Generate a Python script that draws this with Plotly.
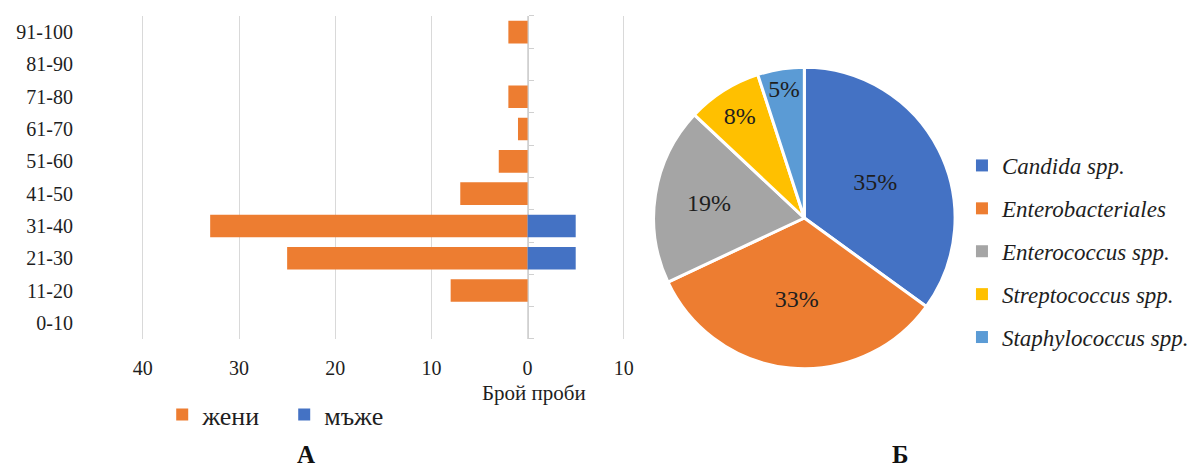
import plotly.graph_objects as go

age_groups = ["0-10", "11-20", "21-30", "31-40", "41-50", "51-60", "61-70", "71-80", "81-90", "91-100"]
women = [0, 8, 25, 33, 7, 3, 1, 2, 0, 2]
men = [0, 0, 5, 5, 0, 0, 0, 0, 0, 0]

x_tickvals = [-40, -30, -20, -10, 0, 10]
x_ticktext = ["40", "30", "20", "10", "0", "10"]

pie_labels = ["Candida spp.", "Enterobacteriales", "Enterococcus spp.", "Streptococcus spp.", "Staphylococcus spp."]
pie_values = [35, 33, 19, 8, 5]
pie_colors = ["#4472C4", "#ED7D31", "#A5A5A5", "#FFC000", "#5B9BD5"]

SERIF = "Liberation Serif"
TXT = "#1e1e1e"

X_DOMAIN = [0.1117, 0.5236]
X_RANGE = [-40.5, 10.5]
# paper position of the value-0 axis line
zero_pos = X_DOMAIN[0] + (0 - X_RANGE[0]) / (X_RANGE[1] - X_RANGE[0]) * (X_DOMAIN[1] - X_DOMAIN[0])

fig = go.Figure()

fig.add_trace(go.Bar(
    y=age_groups, x=[-v for v in women], orientation="h", name="жени",
    marker=dict(color="#ED7D31", line=dict(width=0)), legend="legend",
    xaxis="x", yaxis="y",
))
fig.add_trace(go.Bar(
    y=age_groups, x=men, orientation="h", name="мъже",
    marker=dict(color="#4472C4", line=dict(width=0)), legend="legend",
    xaxis="x", yaxis="y2",
))

fig.add_trace(go.Pie(
    labels=pie_labels, values=pie_values, sort=False, direction="clockwise", rotation=0,
    marker=dict(colors=pie_colors, line=dict(color="white", width=3)),
    texttemplate="%{value}%", textposition="inside", insidetextorientation="horizontal",
    textfont=dict(family=SERIF, size=24, color=TXT),
    domain=dict(x=[0.5446, 0.7977], y=[0.2111, 0.8593]),
    showlegend=False, hoverinfo="label+percent",
))

# legend entries for the pie (separate legend for spacing control)
for lab, col in zip(pie_labels, pie_colors):
    fig.add_trace(go.Scatter(
        x=[None], y=[None], mode="markers", name=lab, legendgroup=lab,
        marker=dict(symbol="square", size=7, color=col),
        legend="legend2", showlegend=True, hoverinfo="skip",
    ))

fig.update_layout(
    width=1201, height=469,
    margin=dict(l=0, r=0, t=0, b=0),
    paper_bgcolor="white", plot_bgcolor="white",
    barmode="relative", bargap=0.3,
    font=dict(family=SERIF, color=TXT),
    xaxis=dict(
        domain=X_DOMAIN, range=X_RANGE,
        tickvals=x_tickvals, ticktext=x_ticktext,
        showgrid=True, gridcolor="#d9d9d9", gridwidth=1,
        zeroline=False,
        showline=False, ticks="", ticklabelstandoff=15,
        tickfont=dict(family=SERIF, size=20, color=TXT),
        fixedrange=True,
    ),
    yaxis=dict(
        domain=[0.2772, 0.9659],
        type="category", categoryorder="array", categoryarray=age_groups,
        showgrid=False, zeroline=False, showline=False, ticks="",
        ticklabelstandoff=64,
        tickfont=dict(family=SERIF, size=20, color=TXT),
        fixedrange=True,
    ),
    yaxis2=dict(
        overlaying="y", matches="y", anchor="free", position=zero_pos, side="right",
        type="category", categoryorder="array", categoryarray=age_groups,
        showline=True, linecolor="#d0d0d0", linewidth=1,
        ticks="outside", ticklen=5, tickcolor="#d0d0d0", tickwidth=1,
        tickson="boundaries", showticklabels=False, showgrid=False, zeroline=False,
        layer="below traces", fixedrange=True,
    ),
    legend=dict(
        orientation="h", x=0.132, y=0.116, xanchor="left", yanchor="middle",
        font=dict(family=SERIF, size=26, color=TXT),
        entrywidth=77, entrywidthmode="pixels",
        bgcolor="rgba(0,0,0,0)", traceorder="normal",
    ),
    legend2=dict(
        x=0.8035, y=0.693, xanchor="left", yanchor="top",
        font=dict(family=SERIF, size=23, color=TXT, style="italic"),
        tracegroupgap=10, traceorder="grouped",
        bgcolor="rgba(0,0,0,0)", itemsizing="constant",
    ),
    annotations=[
        dict(text="Брой проби", x=533 / 1201, y=1 - 393 / 469, xref="paper", yref="paper",
             showarrow=False, font=dict(family=SERIF, size=21, color=TXT),
             xanchor="center", yanchor="middle"),
        dict(text="<b>А</b>", x=304 / 1201, y=0.0, xref="paper", yref="paper",
             showarrow=False, font=dict(family=SERIF, size=25, color="#111111"),
             xanchor="center", yanchor="bottom", borderpad=0),
        dict(text="<b>Б</b>", x=903 / 1201, y=0.0, xref="paper", yref="paper",
             showarrow=False, font=dict(family=SERIF, size=25, color="#111111"),
             xanchor="center", yanchor="bottom", borderpad=0),
    ],
)

fig.write_html("out.html")
